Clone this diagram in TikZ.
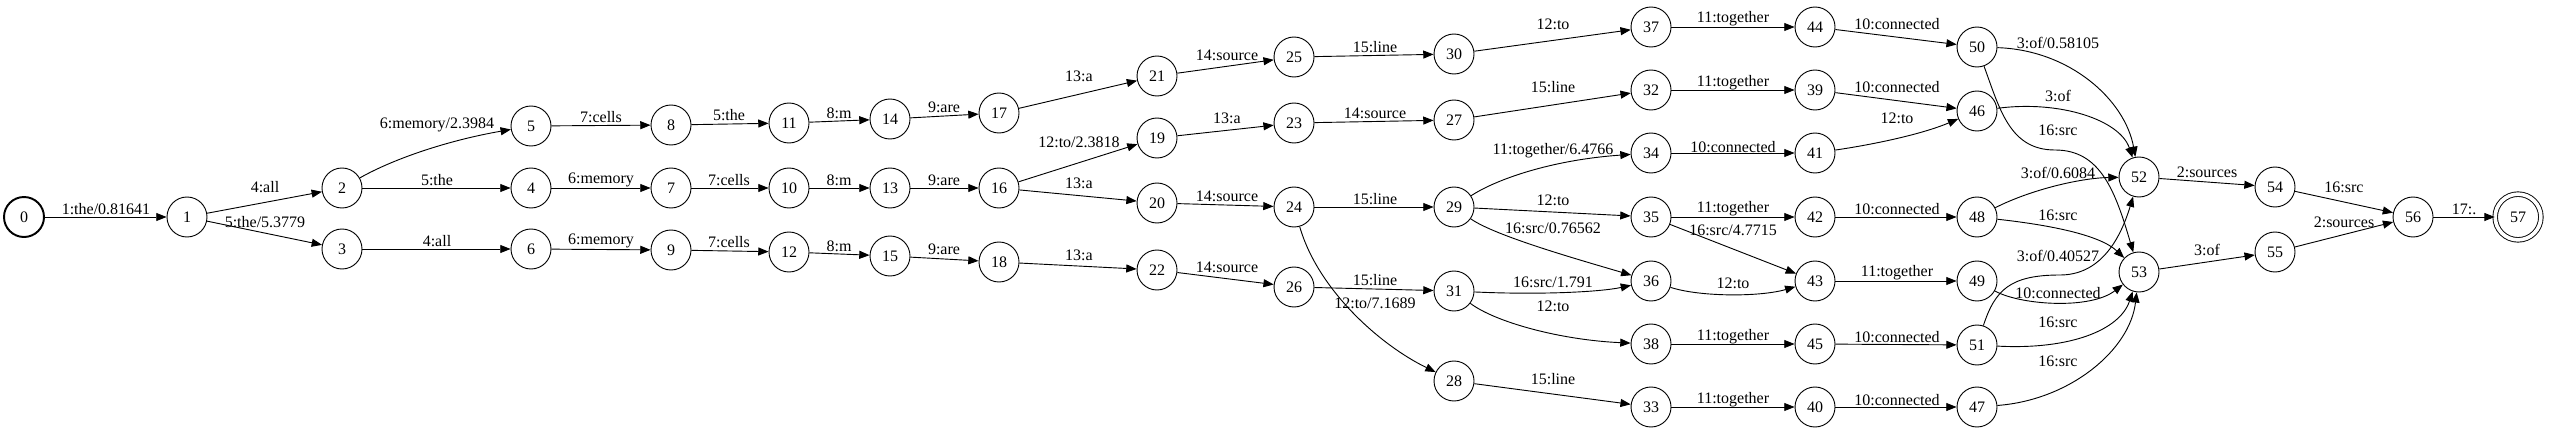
\documentclass[tikz,border=0pt]{standalone}
\usepackage{fontspec}
\setmainfont{Liberation Serif}
\usetikzlibrary{arrows.meta}

\tikzset{
  state/.style={draw, circle, minimum size=35pt, inner sep=0pt, line width=0.8pt, font=\fontsize{14}{16}\selectfont},
  start/.style={state, line width=1.7pt},
  final/.style={state, minimum size=40pt, double, double distance=3.2pt},
  edge/.style={line width=0.8pt, -{Triangle[length=9pt,width=7pt]}},
  lbl/.style={inner sep=0pt, font=\fontsize{14}{16}\selectfont}
}

\begin{document}
\begin{tikzpicture}[x=0.875pt, y=-0.875pt]
  \useasboundingbox (0,0) rectangle (2550,434);

  % States
  \node[start] (n0) at (24,217) {0};
  \node[state] (n1) at (187,217) {1};
  \node[state] (n2) at (342,188) {2};
  \node[state] (n3) at (342,249) {3};
  \node[state] (n4) at (531,188) {4};
  \node[state] (n5) at (531,126) {5};
  \node[state] (n6) at (531,249) {6};
  \node[state] (n7) at (671,188) {7};
  \node[state] (n8) at (671,125) {8};
  \node[state] (n9) at (671,250) {9};
  \node[state] (n10) at (789,188) {10};
  \node[state] (n11) at (789,123) {11};
  \node[state] (n12) at (789,252) {12};
  \node[state] (n13) at (890,188) {13};
  \node[state] (n14) at (890,119) {14};
  \node[state] (n15) at (890,256) {15};
  \node[state] (n16) at (999,188) {16};
  \node[state] (n17) at (999,113) {17};
  \node[state] (n18) at (999,262) {18};
  \node[state] (n19) at (1157,138) {19};
  \node[state] (n20) at (1157,203) {20};
  \node[state] (n21) at (1157,76) {21};
  \node[state] (n22) at (1157,270) {22};
  \node[state] (n23) at (1294,123) {23};
  \node[state] (n24) at (1294,207) {24};
  \node[state] (n25) at (1294,57) {25};
  \node[state] (n26) at (1294,287) {26};
  \node[state] (n27) at (1454,120) {27};
  \node[state] (n28) at (1454,381) {28};
  \node[state] (n29) at (1454,207) {29};
  \node[state] (n30) at (1454,54) {30};
  \node[state] (n31) at (1454,291) {31};
  \node[state] (n32) at (1651,90) {32};
  \node[state] (n33) at (1651,407) {33};
  \node[state] (n34) at (1651,153) {34};
  \node[state] (n35) at (1651,217) {35};
  \node[state] (n36) at (1651,281) {36};
  \node[state] (n37) at (1651,27) {37};
  \node[state] (n38) at (1651,344) {38};
  \node[state] (n39) at (1815,90) {39};
  \node[state] (n40) at (1815,407) {40};
  \node[state] (n41) at (1815,153) {41};
  \node[state] (n42) at (1815,217) {42};
  \node[state] (n43) at (1815,281) {43};
  \node[state] (n44) at (1815,27) {44};
  \node[state] (n45) at (1815,344) {45};
  \node[state] (n46) at (1977,111) {46};
  \node[state] (n47) at (1977,407) {47};
  \node[state] (n48) at (1977,217) {48};
  \node[state] (n49) at (1977,281) {49};
  \node[state] (n50) at (1977,47) {50};
  \node[state] (n51) at (1977,345) {51};
  \node[state] (n52) at (2139,177) {52};
  \node[state] (n53) at (2139,272) {53};
  \node[state] (n54) at (2275,187) {54};
  \node[state] (n55) at (2275,252) {55};
  \node[state] (n56) at (2413,217) {56};
  \node[final] (n57) at (2518,217) {57};

  % Arcs, left part
  \draw[edge] (n0) -- (n1) node[lbl] at (106,209) {1:the/0.81641};
  \draw[edge] (n1) -- (n2) node[lbl] at (265,187) {4:all};
  \draw[edge] (n1) -- (n3) node[lbl] at (265,222) {5:the/5.3779};
  \draw[edge] (n2) .. controls (395,158) and (450,140) .. (n5) node[lbl] at (437,125) {6:memory/2.3984};
  \draw[edge] (n2) -- (n4) node[lbl] at (437,180) {5:the};
  \draw[edge] (n3) -- (n6) node[lbl] at (437,241) {4:all};
  \draw[edge] (n5) -- (n8) node[lbl] at (601,117) {7:cells};
  \draw[edge] (n4) -- (n7) node[lbl] at (601,180) {6:memory};
  \draw[edge] (n6) -- (n9) node[lbl] at (601,241) {6:memory};
  \draw[edge] (n8) -- (n11) node[lbl] at (729,115) {5:the};
  \draw[edge] (n7) -- (n10) node[lbl] at (729,180) {7:cells};
  \draw[edge] (n9) -- (n12) node[lbl] at (729,242) {7:cells};
  \draw[edge] (n11) -- (n14) node[lbl] at (839,113) {8:m};
  \draw[edge] (n10) -- (n13) node[lbl] at (839,180) {8:m};
  \draw[edge] (n12) -- (n15) node[lbl] at (839,246) {8:m};
  \draw[edge] (n14) -- (n17) node[lbl] at (944,107) {9:are};
  \draw[edge] (n13) -- (n16) node[lbl] at (944,180) {9:are};
  \draw[edge] (n15) -- (n18) node[lbl] at (944,249) {9:are};
  \draw[edge] (n17) -- (n21) node[lbl] at (1079,76) {13:a};
  \draw[edge] (n16) -- (n19) node[lbl] at (1079,142) {12:to/2.3818};
  \draw[edge] (n16) -- (n20) node[lbl] at (1079,183) {13:a};
  \draw[edge] (n18) -- (n22) node[lbl] at (1079,255) {13:a};
  \draw[edge] (n21) -- (n25) node[lbl] at (1227,55) {14:source};
  \draw[edge] (n19) -- (n23) node[lbl] at (1227,118) {13:a};
  \draw[edge] (n20) -- (n24) node[lbl] at (1227,196) {14:source};
  \draw[edge] (n22) -- (n26) node[lbl] at (1227,267) {14:source};

  % Arcs, middle part
  \draw[edge] (n25) -- (n30) node[lbl] at (1375,47) {15:line};
  \draw[edge] (n23) -- (n27) node[lbl] at (1375,113) {14:source};
  \draw[edge] (n24) -- (n29) node[lbl] at (1375,199) {15:line};
  \draw[edge] (n26) -- (n31) node[lbl] at (1375,280) {15:line};
  \draw[edge] (n24) .. controls (1318,290) and (1380,345) .. (n28) node[lbl] at (1375,303) {12:to/7.1689};
  \draw[edge] (n30) -- (n37) node[lbl] at (1553,24) {12:to};
  \draw[edge] (n27) -- (n32) node[lbl] at (1553,87) {15:line};
  \draw[edge] (n29) .. controls (1495,180) and (1550,160) .. (n34) node[lbl] at (1553,151) {11:together/6.4766};
  \draw[edge] (n29) -- (n35) node[lbl] at (1553,200) {12:to};
  \draw[edge] (n29) .. controls (1495,236) and (1580,260) .. (n36) node[lbl] at (1553,228) {16:src/0.76562};
  \draw[edge] (n31) .. controls (1540,295) and (1600,292) .. (n36) node[lbl] at (1553,282) {16:src/1.791};
  \draw[edge] (n31) .. controls (1495,322) and (1560,340) .. (n38) node[lbl] at (1553,306) {12:to};
  \draw[edge] (n28) -- (n33) node[lbl] at (1553,379) {15:line};
  \draw[edge] (n37) -- (n44) node[lbl] at (1733,19) {11:together};
  \draw[edge] (n32) -- (n39) node[lbl] at (1733,83) {11:together};
  \draw[edge] (n34) -- (n41) node[lbl] at (1733,147) {10:connected};
  \draw[edge] (n35) -- (n42) node[lbl] at (1733,209) {11:together};
  \draw[edge] (n35) -- (n43) node[lbl] at (1733,230) {16:src/4.7715};
  \draw[edge] (n36) .. controls (1700,297) and (1760,297) .. (n43) node[lbl] at (1733,283) {12:to};
  \draw[edge] (n38) -- (n45) node[lbl] at (1733,337) {11:together};
  \draw[edge] (n33) -- (n40) node[lbl] at (1733,400) {11:together};

  % Arcs, right part
  \draw[edge] (n44) -- (n50) node[lbl] at (1897,24) {10:connected};
  \draw[edge] (n39) -- (n46) node[lbl] at (1897,87) {10:connected};
  \draw[edge] (n41) .. controls (1870,145) and (1920,135) .. (n46) node[lbl] at (1897,118) {12:to};
  \draw[edge] (n42) -- (n48) node[lbl] at (1897,209) {10:connected};
  \draw[edge] (n43) -- (n49) node[lbl] at (1897,273) {11:together};
  \draw[edge] (n45) -- (n51) node[lbl] at (1897,337) {10:connected};
  \draw[edge] (n40) -- (n47) node[lbl] at (1897,400) {10:connected};
  \draw[edge] (n50) .. controls (2070,50) and (2125,100) .. (n52) node[lbl] at (2058,43) {3:of/0.58105};
  \draw[edge] (n46) .. controls (2060,100) and (2120,120) .. (n52) node[lbl] at (2058,96) {3:of};
  \draw[edge] (n50) .. controls (2000,110) and (2010,150) .. (2055,150)
    .. controls (2100,150) and (2115,190) .. (n53) node[lbl] at (2058,130) {16:src};
  \draw[edge] (n48) .. controls (2030,190) and (2080,178) .. (n52) node[lbl] at (2058,173) {3:of/0.6084};
  \draw[edge] (n48) .. controls (2050,225) and (2100,235) .. (n53) node[lbl] at (2058,215) {16:src};
  \draw[edge] (n51) .. controls (1995,290) and (2010,275) .. (2060,275)
    .. controls (2100,275) and (2120,240) .. (n52) node[lbl] at (2058,256) {3:of/0.40527};
  \draw[edge] (n49) .. controls (2020,305) and (2090,310) .. (n53) node[lbl] at (2058,293) {10:connected};
  \draw[edge] (n51) .. controls (2070,350) and (2120,330) .. (n53) node[lbl] at (2058,322) {16:src};
  \draw[edge] (n47) .. controls (2070,400) and (2130,350) .. (n53) node[lbl] at (2058,361) {16:src};
  \draw[edge] (n52) -- (n54) node[lbl] at (2207,172) {2:sources};
  \draw[edge] (n53) -- (n55) node[lbl] at (2207,250) {3:of};
  \draw[edge] (n54) -- (n56) node[lbl] at (2344,187) {16:src};
  \draw[edge] (n55) -- (n56) node[lbl] at (2344,222) {2:sources};
  \draw[edge] (n56) -- (n57) node[lbl] at (2464,209) {17:.};
\end{tikzpicture}
\end{document}
